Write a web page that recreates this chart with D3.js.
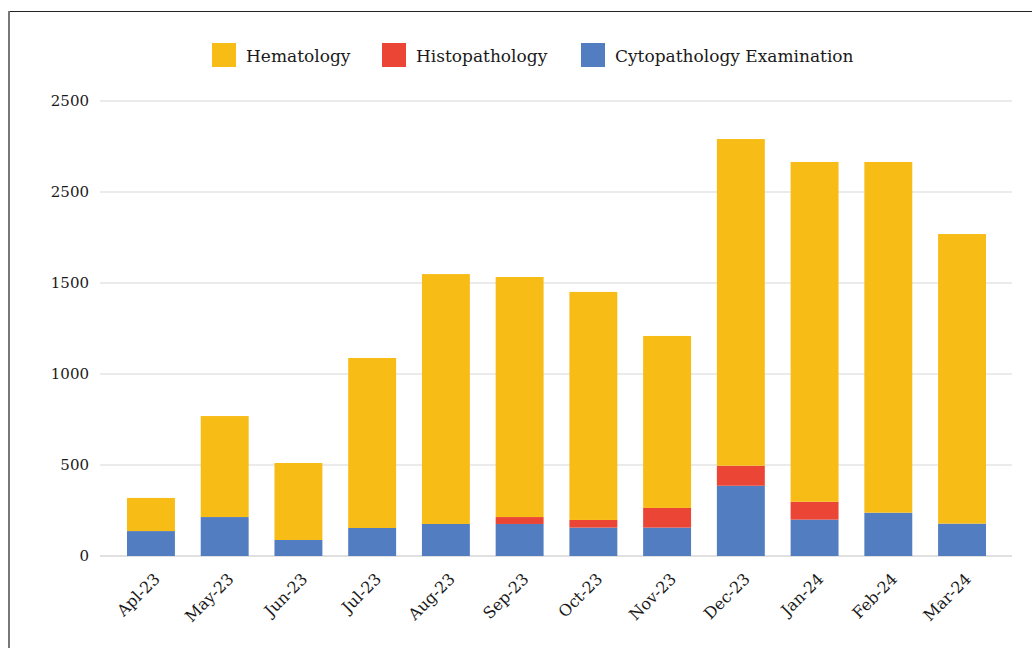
<!DOCTYPE html>
<html>
<head>
<meta charset="utf-8">
<script src="https://cdn.jsdelivr.net/npm/d3@7"></script>
<style>
  html, body { margin: 0; padding: 0; background: #fff; }
  svg { display: block; }
  text { font-family: "DejaVu Serif", serif; fill: #1a1a1a; }
</style>
</head>
<body>
<svg id="chart" width="1032" height="648"></svg>
<script>
// Monthly test counts by department
const months = ["Apl-23", "May-23", "Jun-23", "Jul-23", "Aug-23", "Sep-23",
                "Oct-23", "Nov-23", "Dec-23", "Jan-24", "Feb-24", "Mar-24"];
const cytopathology = [137, 214, 88, 154, 176, 176, 156, 156, 386, 200, 238, 178];
const histopathology = [0, 0, 0, 0, 0, 38, 42, 108, 110, 98, 0, 0];
const hematology = [182, 555, 423, 934, 1373, 1319, 1253, 945, 1795, 1867, 1927, 1591];

const seriesNames = ["Hematology", "Histopathology", "Cytopathology Examination"];
const seriesColors = ["#F8BC16", "#EA4535", "#537DC1"];

const tickValues = [0, 500, 1000, 1500, 2000, 2500];
const tickLabels = ["0", "500", "1000", "1500", "2500", "2500"];

const svg = d3.select("#chart");

// outer frame edges
svg.append("line").attr("x1", 8).attr("x2", 1032).attr("y1", 11.5).attr("y2", 11.5)
  .attr("stroke", "#222").attr("stroke-width", 1);
svg.append("line").attr("x1", 9).attr("x2", 9).attr("y1", 11).attr("y2", 648)
  .attr("stroke", "#777").attr("stroke-width", 2);

const x = d3.scaleBand().domain(months).range([100, 1013])
  .paddingInner(0.35).paddingOuter(0.366);
const y = d3.scaleLinear().domain([0, 2500]).range([556, 101]);

// gridlines
const grid = svg.append("g");
grid.selectAll("line").data(tickValues).join("line")
  .attr("x1", 100).attr("x2", 1012)
  .attr("y1", d => y(d)).attr("y2", d => y(d))
  .attr("stroke", d => d === 0 ? "#d6d6d6" : "#e4e4e4")
  .attr("stroke-width", 1.5);

// y axis labels
const yAxis = d3.axisLeft(y).tickValues(tickValues)
  .tickFormat((d, i) => tickLabels[i]).tickSize(0).tickPadding(11);
const yg = svg.append("g").attr("transform", "translate(100,0)").call(yAxis);
yg.select(".domain").remove();
yg.selectAll("text").style("font-family", '"DejaVu Serif", serif')
  .style("font-size", "15px").attr("fill", "#1a1a1a");

// stacked bars: cytopathology at the base, histopathology, then hematology
const rows = months.map((m, i) => ({
  month: m,
  "Cytopathology Examination": cytopathology[i],
  "Histopathology": histopathology[i],
  "Hematology": hematology[i]
}));
const stackOrder = ["Cytopathology Examination", "Histopathology", "Hematology"];
const stacked = d3.stack().keys(stackOrder)(rows);
const color = d3.scaleOrdinal().domain(seriesNames).range(seriesColors);

svg.append("g").selectAll("g").data(stacked).join("g")
  .attr("fill", d => color(d.key))
  .selectAll("rect").data(d => d).join("rect")
  .attr("x", d => x(d.data.month))
  .attr("width", x.bandwidth())
  .attr("y", d => y(d[1]))
  .attr("height", d => Math.max(0, y(d[0]) - y(d[1])));

// x axis labels
const xAxis = d3.axisBottom(x).tickSize(0).tickPadding(0);
const xg = svg.append("g").attr("transform", "translate(0,556)").call(xAxis);
xg.select(".domain").remove();
xg.selectAll("text")
  .style("font-family", '"DejaVu Serif", serif')
  .style("font-size", "16px")
  .attr("fill", "#1a1a1a")
  .attr("text-anchor", "end")
  .attr("dy", 0)
  .attr("y", 0)
  .attr("transform", "translate(10,24) rotate(-45)");

// legend
const legendX = [212, 382, 581];
const legend = svg.append("g").selectAll("g").data(seriesNames).join("g")
  .attr("transform", (d, i) => `translate(${legendX[i]},43)`);
legend.append("rect").attr("width", 24).attr("height", 24).attr("fill", d => color(d));
legend.append("text").attr("x", 34).attr("y", 19)
  .style("font-size", "17px").text(d => d);
</script>
</body>
</html>
